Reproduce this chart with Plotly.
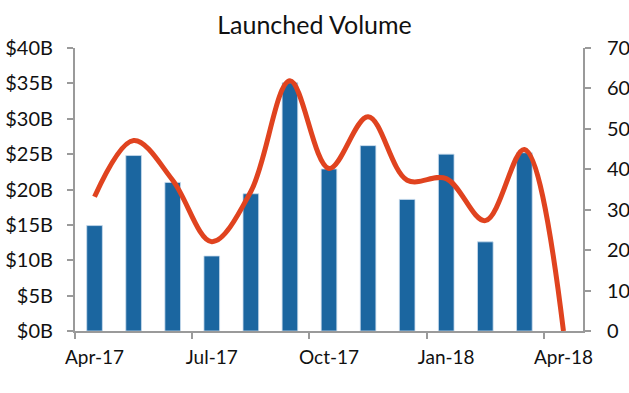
import plotly.graph_objects as go

months = ["Apr-17", "May-17", "Jun-17", "Jul-17", "Aug-17", "Sep-17", "Oct-17",
          "Nov-17", "Dec-17", "Jan-18", "Feb-18", "Mar-18", "Apr-18"]
volume_b = [14.9, 24.8, 21.0, 10.6, 19.4, 35.1, 22.9, 26.2, 18.6, 25.0, 12.6, 25.2]
count = [33.2, 47.1, 37.3, 22.1, 34.5, 61.9, 40.2, 53.0, 37.3, 37.7, 27.3, 44.9, 0]
label_idx = [0, 3, 6, 9, 12]

xpos = list(range(len(months)))

fig = go.Figure()
fig.add_trace(go.Bar(
    x=xpos[:len(volume_b)], y=volume_b, width=0.4,
    marker=dict(color="#1b66a0", line=dict(color="#c9dced", width=0.8)),
    yaxis="y", showlegend=False,
))
fig.add_trace(go.Scatter(
    x=xpos, y=count, mode="lines",
    line=dict(color="#e0431f", width=5, shape="spline", smoothing=1.0),
    yaxis="y2", showlegend=False,
))

axis_col = "#9a9a9a"
fig.update_layout(
    width=629, height=393,
    margin=dict(l=75, r=46, t=48, b=62),
    plot_bgcolor="white", paper_bgcolor="white",
    font=dict(family="Lato, 'Noto Sans', sans-serif", size=20, color="#111"),
    title=dict(text="Launched Volume", x=0.5, xanchor="center", y=0.936, yanchor="middle",
               font=dict(size=25, color="#111")),
    xaxis=dict(
        range=[-0.5, 12.5], tickvals=[xpos[i] for i in label_idx],
        ticktext=[months[i] for i in label_idx], ticks="",
        showline=True, linecolor=axis_col, linewidth=2, showgrid=False, zeroline=False,
        minor=dict(tickvals=[-0.5, 2.5, 5.5, 8.5, 11.5], ticks="outside", ticklen=6,
                   tickwidth=2, tickcolor=axis_col, showgrid=False),
        tickfont=dict(size=19), ticklabelstandoff=8, automargin=False,
    ),
    yaxis=dict(
        range=[0, 40], tickvals=[0, 5, 10, 15, 20, 25, 30, 35, 40],
        ticktext=["$0B", "$5B", "$10B", "$15B", "$20B", "$25B", "$30B", "$35B", "$40B"],
        ticks="outside", ticklen=6, tickwidth=2, tickcolor=axis_col,
        showline=True, linecolor=axis_col, linewidth=2, showgrid=False, zeroline=False,
        tickfont=dict(size=20), ticklabelstandoff=10, automargin=False,
    ),
    yaxis2=dict(
        range=[0, 70], tickvals=[0, 10, 20, 30, 40, 50, 60, 70], overlaying="y", side="right",
        ticks="outside", ticklen=6, tickwidth=2, tickcolor=axis_col,
        showline=True, linecolor=axis_col, linewidth=2, showgrid=False, zeroline=False,
        tickfont=dict(size=20), ticklabelstandoff=12, automargin=False,
    ),
)
fig.write_html("out.html", config={"displayModeBar": False},
               post_script="document.body.style.margin='0';")
